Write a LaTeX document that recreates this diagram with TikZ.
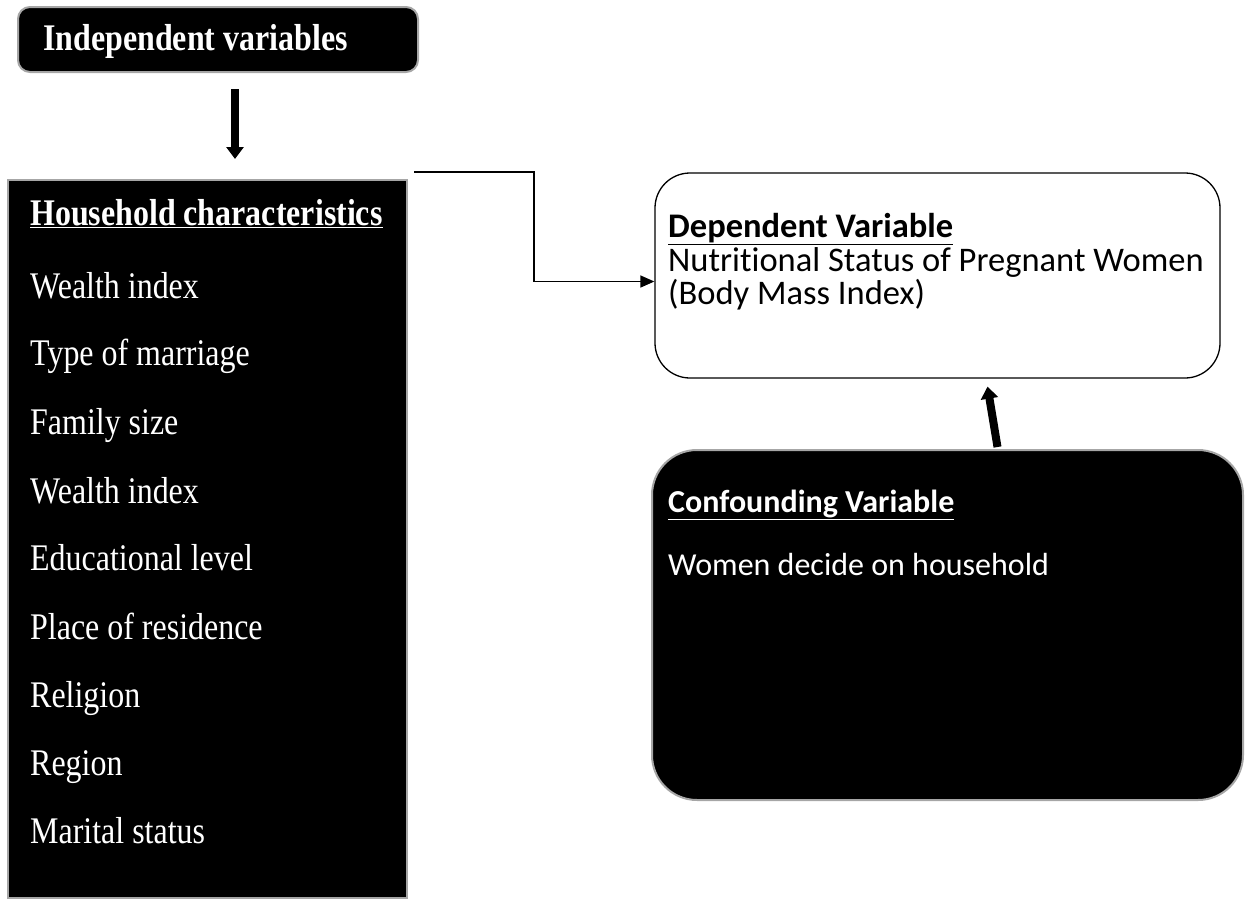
\documentclass[tikz,border=0pt]{standalone}
\usepackage{fontspec}
\setmainfont[FakeStretch=0.85]{Liberation Serif}
\newfontfamily\calibri[Ligatures=NoCommon]{Carlito}
\usetikzlibrary{arrows.meta,positioning}
\tikzset{
  darkbox/.style={draw=black!35, line width=2pt, fill=black, inner sep=0pt},
  lightbox/.style={draw=black, line width=1.3pt, fill=white, inner sep=0pt},
  sertxt/.style={text=white, font=\fontsize{37.6}{42}\selectfont, inner sep=0pt, anchor=base west},
  caltxt/.style={font=\calibri\fontsize{34.5}{40}\selectfont, inner sep=0pt, anchor=base west},
  flow/.style={draw=black, line width=1.5pt, -{Triangle[length=14pt,width=12pt]}},
  fatarrow/.style={draw=black, line width=8pt, -{Triangle[length=12pt,width=17pt]}}
}

\begin{document}
\begin{tikzpicture}[x=1pt, y=-1pt]
  \useasboundingbox (0,0) rectangle (1245,900);

  % boxes
  \node[darkbox, rounded corners=12pt, minimum width=400pt, minimum height=65pt] (indep) at (218,39.5) {};
  \node[darkbox, minimum width=399pt, minimum height=718pt] (house) at (207.5,539) {};
  \node[lightbox, rounded corners=35pt, minimum width=565pt, minimum height=205pt] (dep) at (937.5,275.5) {};
  \node[darkbox, rounded corners=45pt, minimum width=591pt, minimum height=350pt] (conf) at (947.5,625) {};

  % left column
  \node[sertxt] (indeptxt) at (43,50) {\textbf{Independent variables}};
  \node[sertxt] (househead) at (30,225) {\underline{\textbf{Household characteristics}}};
  \node[sertxt] (wealtha) at (30,298) {Wealth index};
  \node[sertxt] (marriage) at (30,365) {Type of marriage};
  \node[sertxt] (famsize) at (30,434) {Family size};
  \node[sertxt] (wealthb) at (30,503) {Wealth index};
  \node[sertxt] (educ) at (30,570) {Educational level};
  \node[sertxt] (residence) at (30,639) {Place of residence};
  \node[sertxt] (religion) at (30,707) {Religion};
  \node[sertxt] (region) at (30,775) {Region};
  \node[sertxt] (marital) at (30,843) {Marital status};

  % right column
  \node[caltxt] (dephead) at (668,237) {\underline{\textbf{Dependent Variable}}};
  \node[caltxt] (depline) at (668,271) {Nutritional Status of Pregnant Women};
  \node[caltxt] (bmi) at (668,304) {(Body Mass Index)};
  \node[caltxt, text=white, font=\calibri\fontsize{32}{38}\selectfont] (confhead) at (668,512) {\underline{\textbf{Confounding Variable}}};
  \node[caltxt, text=white, font=\calibri\fontsize{32}{38}\selectfont] (decide) at (668,575) {Women decide on household};

  % arrows
  \draw[fatarrow] ([xshift=17pt,yshift=-16pt]indep.south) -- ([xshift=27.5pt,yshift=20pt]house.north);
  \draw[flow] ([xshift=6pt,yshift=7pt]house.north east) -- ++(120,0) |- ([yshift=-6pt]dep.west);
  \draw[fatarrow] ([xshift=50pt,yshift=2pt]conf.north) -- ([xshift=50pt,yshift=-8pt]dep.south);
\end{tikzpicture}
\end{document}
